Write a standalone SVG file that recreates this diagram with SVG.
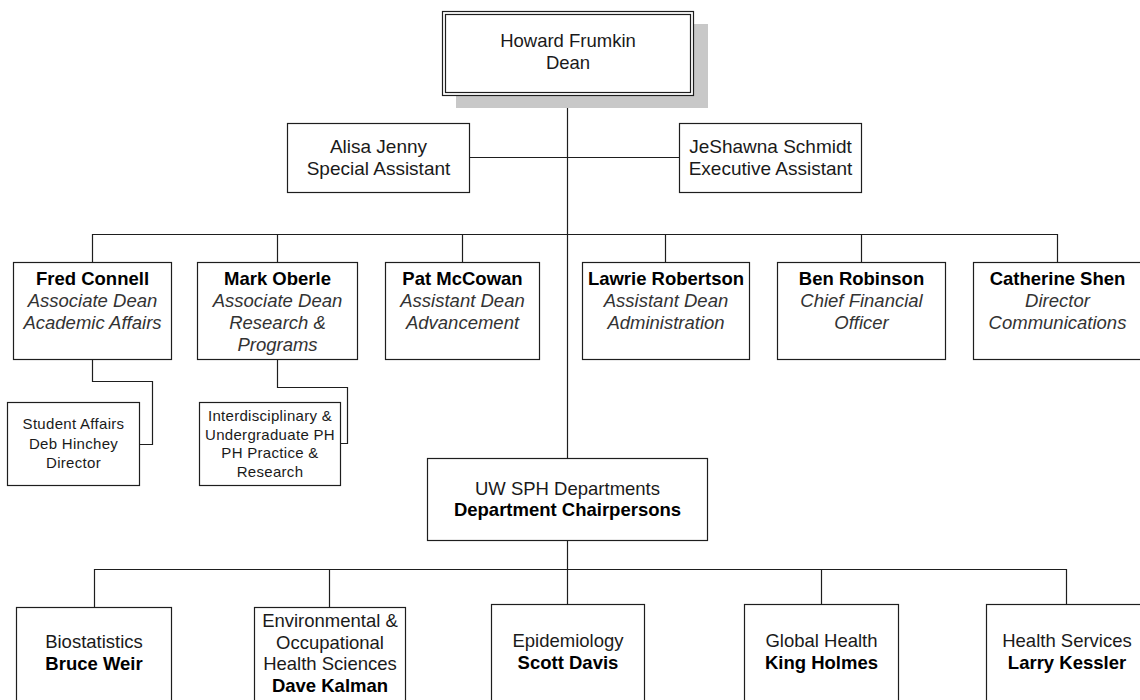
<svg xmlns="http://www.w3.org/2000/svg" width="1140" height="700" viewBox="0 0 1140 700">
<style>
.bg{fill:#ffffff}
.box{fill:#ffffff;stroke:#1e1e1e;stroke-width:1.2}
.ln{fill:none;stroke:#1e1e1e;stroke-width:1.2}
.shadow{fill:#c8c8c8}
text{font-family:"Liberation Sans",Arial,Helvetica,sans-serif;fill:#1a1a1a;text-anchor:middle}
.t{font-size:18.5px}
.ta{font-size:19px}
.b{font-size:18.5px;font-weight:bold;fill:#000}
.i{font-size:18.5px;font-style:italic;fill:#333}
.s{font-size:15px;letter-spacing:0.3px}
</style>
<rect class="bg" x="0" y="0" width="1140" height="700"/>

<g id="connectors">
  <path class="ln" d="M567.5 95 V458"/>
  <path class="ln" d="M470 157.5 H679"/>
  <path class="ln" d="M92.5 262 V234.5 H1057.5 V262"/>
  <path class="ln" d="M277.5 234.5 V262 M462.5 234.5 V262 M665.5 234.5 V262 M861.5 234.5 V262"/>
  <path class="ln" d="M92.5 360 V381.5 H152.5 V444.5 H140"/>
  <path class="ln" d="M277.5 360 V387.5 H347.5 V443.5 H341"/>
  <path class="ln" d="M567.5 541 V569.5"/>
  <path class="ln" d="M94.5 607 V569.5 H1066.5 V604"/>
  <path class="ln" d="M329.5 569.5 V607 M567.5 569.5 V604 M821.5 569.5 V604"/>
</g>

<g id="dean">
  <rect class="shadow" x="456" y="24" width="252" height="84"/>
  <rect class="box" x="442.5" y="11.5" width="251" height="84"/>
  <rect class="box" x="445.5" y="14.5" width="245" height="78"/>
  <text class="t" x="568" y="47">Howard Frumkin</text>
  <text class="t" x="568" y="69">Dean</text>
</g>

<g id="alisa">
  <rect class="box" x="287.5" y="123.5" width="182" height="69"/>
  <text class="ta" x="378.5" y="153">Alisa Jenny</text>
  <text class="ta" x="378.5" y="175">Special Assistant</text>
</g>

<g id="jeshawna">
  <rect class="box" x="679.5" y="123.5" width="182" height="69"/>
  <text class="ta" x="770.5" y="153">JeShawna Schmidt</text>
  <text class="ta" x="770.5" y="175">Executive Assistant</text>
</g>

<g id="fred">
  <rect class="box" x="13.5" y="262.5" width="158" height="97"/>
  <text class="b" x="92.5" y="285">Fred Connell</text>
  <text class="i" x="92.5" y="307">Associate Dean</text>
  <text class="i" x="92.5" y="329">Academic Affairs</text>
</g>

<g id="mark">
  <rect class="box" x="197.5" y="262.5" width="160" height="97"/>
  <text class="b" x="277.5" y="285">Mark Oberle</text>
  <text class="i" x="277.5" y="307">Associate Dean</text>
  <text class="i" x="277.5" y="329">Research &amp;</text>
  <text class="i" x="277.5" y="351">Programs</text>
</g>

<g id="pat">
  <rect class="box" x="385.5" y="262.5" width="154" height="97"/>
  <text class="b" x="462.5" y="285">Pat McCowan</text>
  <text class="i" x="462.5" y="307">Assistant Dean</text>
  <text class="i" x="462.5" y="329">Advancement</text>
</g>

<g id="lawrie">
  <rect class="box" x="582.5" y="262.5" width="167" height="97"/>
  <text class="b" x="666" y="285">Lawrie Robertson</text>
  <text class="i" x="666" y="307">Assistant Dean</text>
  <text class="i" x="666" y="329">Administration</text>
</g>

<g id="ben">
  <rect class="box" x="777.5" y="262.5" width="168" height="97"/>
  <text class="b" x="861.5" y="285">Ben Robinson</text>
  <text class="i" x="861.5" y="307">Chief Financial</text>
  <text class="i" x="861.5" y="329">Officer</text>
</g>

<g id="catherine">
  <rect class="box" x="973.5" y="262.5" width="168" height="97"/>
  <text class="b" x="1057.5" y="285">Catherine Shen</text>
  <text class="i" x="1057.5" y="307">Director</text>
  <text class="i" x="1057.5" y="329">Communications</text>
</g>

<g id="student-affairs">
  <rect class="box" x="7.5" y="402.5" width="132" height="83"/>
  <text class="s" x="73.5" y="429">Student Affairs</text>
  <text class="s" x="73.5" y="449">Deb Hinchey</text>
  <text class="s" x="73.5" y="468">Director</text>
</g>

<g id="interdisciplinary">
  <rect class="box" x="199.5" y="402.5" width="141" height="83"/>
  <text class="s" x="270" y="421">Interdisciplinary &amp;</text>
  <text class="s" x="270" y="439.5">Undergraduate PH</text>
  <text class="s" x="270" y="458">PH Practice &amp;</text>
  <text class="s" x="270" y="477">Research</text>
</g>

<g id="departments">
  <rect class="box" x="427.5" y="458.5" width="280" height="82"/>
  <text class="t" x="567.5" y="495">UW SPH Departments</text>
  <text class="b" x="567.5" y="516">Department Chairpersons</text>
</g>

<g id="biostatistics">
  <rect class="box" x="16.5" y="607.5" width="155" height="110"/>
  <text class="t" x="94" y="648">Biostatistics</text>
  <text class="b" x="94" y="670">Bruce Weir</text>
</g>

<g id="environmental">
  <rect class="box" x="254.5" y="607.5" width="151" height="110"/>
  <text class="t" x="330" y="627">Environmental &amp;</text>
  <text class="t" x="330" y="648.5">Occupational</text>
  <text class="t" x="330" y="670">Health Sciences</text>
  <text class="b" x="330" y="692">Dave Kalman</text>
</g>

<g id="epidemiology">
  <rect class="box" x="491.5" y="604.5" width="153" height="110"/>
  <text class="t" x="568" y="647">Epidemiology</text>
  <text class="b" x="568" y="669">Scott Davis</text>
</g>

<g id="global-health">
  <rect class="box" x="744.5" y="604.5" width="154" height="110"/>
  <text class="t" x="821.5" y="647">Global Health</text>
  <text class="b" x="821.5" y="669">King Holmes</text>
</g>

<g id="health-services">
  <rect class="box" x="986.5" y="604.5" width="161" height="110"/>
  <text class="t" x="1067" y="647">Health Services</text>
  <text class="b" x="1067" y="669">Larry Kessler</text>
</g>
</svg>
